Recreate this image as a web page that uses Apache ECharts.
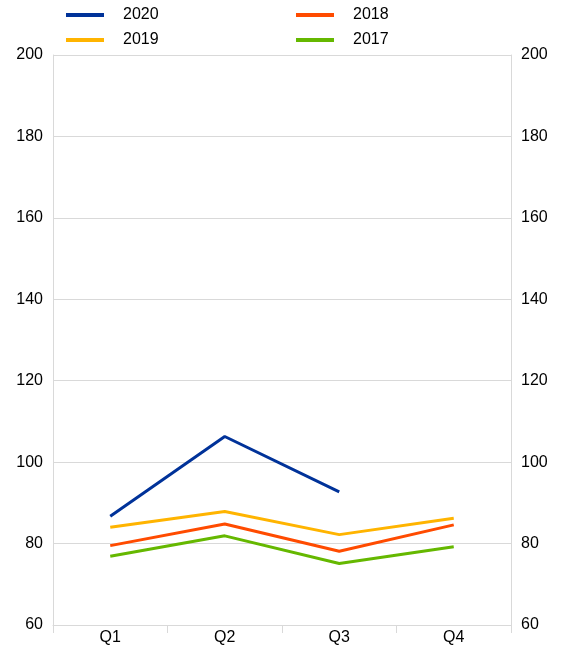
<!DOCTYPE html>
<html>
<head>
<meta charset="utf-8">
<script src="https://cdn.jsdelivr.net/npm/echarts@6/dist/echarts.min.js"></script>
<style>
  html, body { margin: 0; padding: 0; background: #fff; }
  #chart { width: 563px; height: 648px; }
</style>
</head>
<body>
<div id="chart"></div>
<script>
// Chart data
var quarters = ['Q1', 'Q2', 'Q3', 'Q4'];
var y2020 = [86.7, 106.3, 92.7, null];
var y2019 = [84.0, 87.9, 82.2, 86.2];
var y2018 = [79.5, 84.8, 78.1, 84.6];
var y2017 = [76.9, 81.9, 75.1, 79.2];

var myChart = echarts.init(document.getElementById('chart'));

var font = 'Liberation Sans, Arial, sans-serif';
var gridColor = '#d9d9d9';

function yAxis(pos) {
    return {
        type: 'value',
        position: pos,
        min: 60,
        max: 200,
        interval: 20,
        axisLine: { show: true, lineStyle: { color: gridColor } },
        axisTick: { show: false },
        splitLine: { show: pos === 'left', lineStyle: { color: gridColor } },
        axisLabel: { color: '#000', fontSize: 16, fontFamily: font, margin: 10 }
    };
}

function series(name, data, color) {
    return {
        name: name,
        type: 'line',
        data: data,
        symbol: 'none',
        lineStyle: { width: 3, color: color },
        itemStyle: { color: color }
    };
}

var legendBase = {
    orient: 'vertical',
    top: 2,
    itemWidth: 38,
    itemHeight: 4,
    itemGap: 9,
    icon: 'rect',
    textStyle: { color: '#000', fontSize: 16, fontFamily: font, padding: [0, 0, 0, 14] }
};

var option = {
    animation: false,
    legend: [
        Object.assign({ left: 61, data: ['2020', '2019'] }, legendBase),
        Object.assign({ left: 291, data: ['2018', '2017'] }, legendBase)
    ],
    grid: { left: 53, right: 52, top: 55, bottom: 23 },
    xAxis: {
        type: 'category',
        data: quarters,
        boundaryGap: true,
        axisLine: { lineStyle: { color: gridColor } },
        axisTick: { show: true, length: 8, lineStyle: { color: gridColor } },
        axisLabel: { color: '#000', fontSize: 16, fontFamily: font, margin: 5 }
    },
    yAxis: [yAxis('left'), yAxis('right')],
    series: [
        series('2020', y2020, '#003299'),
        series('2019', y2019, '#ffb400'),
        series('2018', y2018, '#ff4b00'),
        series('2017', y2017, '#65b800')
    ]
};

myChart.setOption(option);
</script>
</body>
</html>
